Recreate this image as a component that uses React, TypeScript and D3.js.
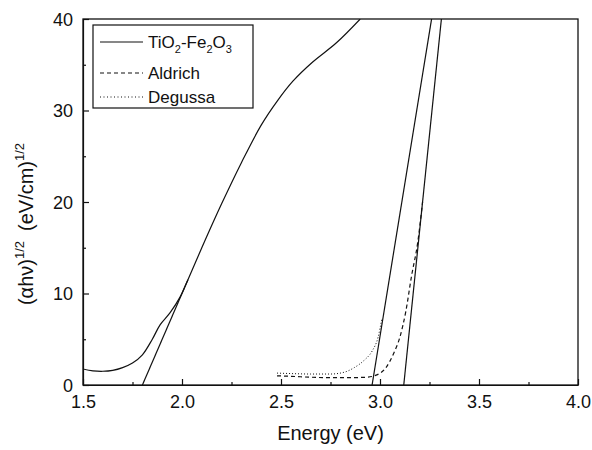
import React, { useEffect, useRef } from "react";
import * as d3 from "d3";

// TiO2-Fe2O3 measured curve
const tioEnergy = [1.5, 1.55, 1.6, 1.65, 1.7, 1.75, 1.8, 1.85, 1.89, 1.94, 1.99, 2.03, 2.1, 2.2, 2.3, 2.4, 2.48, 2.56, 2.66, 2.78, 2.9];
const tioValue = [1.75, 1.55, 1.5, 1.6, 1.9, 2.4, 3.3, 5.0, 6.6, 7.9, 9.6, 11.5, 15.0, 19.8, 24.3, 28.4, 31.0, 33.2, 35.3, 37.4, 40];

// Aldrich (dashed)
const aldrichEnergy = [2.48, 2.55, 2.65, 2.75, 2.85, 2.93, 2.97, 3.03, 3.07, 3.1, 3.13, 3.16, 3.19, 3.215];
const aldrichValue = [1.0, 0.95, 0.85, 0.8, 0.8, 0.85, 1.0, 1.9, 3.5, 5.2, 8.0, 12.0, 15.5, 20];

// Degussa (dotted)
const degussaEnergy = [2.48, 2.55, 2.65, 2.75, 2.82, 2.87, 2.92, 2.96, 2.99, 3.01];
const degussaValue = [1.3, 1.25, 1.2, 1.2, 1.4, 1.9, 2.7, 3.7, 5.2, 7.3];

// linear extrapolations (band gap fits)
const fitLines = [
  { energy: [1.8, 2.03], value: [0, 11.5] },
  { energy: [2.96, 3.262], value: [0, 40.2] },
  { energy: [3.12, 3.311], value: [0, 40.2] },
];

const xTicks = [1.5, 2.0, 2.5, 3.0, 3.5, 4.0];
const xMinor = [1.75, 2.25, 2.75, 3.25, 3.75];
const yTicks = [0, 10, 20, 30, 40];
const yMinor = [5, 15, 25, 35];

const legendNames = ["TiO2-Fe2O3", "Aldrich", "Degussa"];

const App = () => {
  const svgRef = useRef<SVGSVGElement>(null);

  useEffect(() => {
    document.body.style.margin = "0";
    const svg = d3.select(svgRef.current);
    svg.selectAll("*").remove();

    const left = 83, right = 578, top = 19, bottom = 385;
    const font = "'Liberation Sans', Arial, sans-serif";
    const ink = "#111";

    const x = d3.scaleLinear().domain([1.5, 4.0]).range([left, right]);
    const y = d3.scaleLinear().domain([0, 40]).range([bottom, top]);

    svg.append("defs").append("clipPath").attr("id", "plot")
      .append("rect").attr("x", left).attr("y", top)
      .attr("width", right - left).attr("height", bottom - top);

    const smooth = d3.line<[number, number]>()
      .x(d => x(d[0])).y(d => y(d[1]))
      .curve(d3.curveCatmullRom.alpha(0.5));
    const line = d3.line<[number, number]>()
      .x(d => x(d[0])).y(d => y(d[1]))
      .curve(d3.curveMonotoneX);
    const straight = d3.line<[number, number]>().x(d => x(d[0])).y(d => y(d[1]));

    const g = svg.append("g").attr("clip-path", "url(#plot)")
      .attr("fill", "none").attr("stroke", ink).attr("stroke-width", 1.2);

    g.append("path").attr("d", smooth(tioEnergy.map((e, i) => [e, tioValue[i]])));
    g.append("path").attr("d", line(aldrichEnergy.map((e, i) => [e, aldrichValue[i]])))
      .attr("stroke-dasharray", "4,3");
    g.append("path").attr("d", line(degussaEnergy.map((e, i) => [e, degussaValue[i]])))
      .attr("stroke-dasharray", "1,2").attr("stroke-width", 1);
    fitLines.forEach(f => {
      g.append("path").attr("d", straight(f.energy.map((e, i) => [e, f.value[i]])));
    });

    // axes
    const xAxis = svg.append("g").attr("transform", `translate(0,${bottom})`)
      .call(d3.axisBottom(x).tickValues(xTicks).tickFormat(d3.format(".1f"))
        .tickSizeInner(-6).tickSizeOuter(0).tickPadding(10));
    svg.append("g").attr("transform", `translate(0,${bottom})`)
      .call(d3.axisBottom(x).tickValues(xMinor).tickFormat(() => "").tickSizeInner(-3).tickSizeOuter(0))
      .select(".domain").remove();
    const yAxis = svg.append("g").attr("transform", `translate(${left},0)`)
      .call(d3.axisLeft(y).tickValues(yTicks).tickSizeInner(-6).tickSizeOuter(0).tickPadding(10));
    svg.append("g").attr("transform", `translate(${left},0)`)
      .call(d3.axisLeft(y).tickValues(yMinor).tickFormat(() => "").tickSizeInner(-3).tickSizeOuter(0))
      .select(".domain").remove();

    svg.selectAll(".tick line").attr("stroke", ink).attr("stroke-width", 1.2);
    svg.selectAll(".domain").attr("stroke", ink).attr("stroke-width", 1.2);
    [xAxis, yAxis].forEach(a => a.selectAll("text")
      .attr("font-family", font).attr("font-size", 18).attr("fill", ink));
    yAxis.selectAll("text").attr("dy", "0.36em");

    // frame
    svg.append("rect").attr("x", left).attr("y", top)
      .attr("width", right - left).attr("height", bottom - top)
      .attr("fill", "none").attr("stroke", ink).attr("stroke-width", 1.3);

    // axis titles
    svg.append("text").attr("x", (left + right) / 2).attr("y", 440)
      .attr("text-anchor", "middle").attr("font-family", font).attr("font-size", 20)
      .attr("fill", ink).text("Energy (eV)");

    const yl = svg.append("text")
      .attr("transform", "translate(33,224) rotate(-90)")
      .attr("text-anchor", "middle").attr("font-family", font).attr("font-size", 20)
      .attr("fill", ink);
    yl.append("tspan").text("(\u03B1h\u03BD)");
    yl.append("tspan").attr("dy", -9).attr("font-size", 13).text("1/2");
    yl.append("tspan").attr("dy", 9).text("\u2002(eV/cm)");
    yl.append("tspan").attr("dy", -9).attr("font-size", 13).text("1/2");

    // legend
    const lg = svg.append("g");
    lg.append("rect").attr("x", 93).attr("y", 25).attr("width", 160).attr("height", 83)
      .attr("fill", "white").attr("stroke", ink).attr("stroke-width", 1.2);
    const dashes = [null, "4,3", "1,2.5"];
    const rows = [42, 73, 97];
    legendNames.forEach((name, i) => {
      lg.append("line").attr("x1", 100).attr("x2", 143)
        .attr("y1", rows[i]).attr("y2", rows[i])
        .attr("stroke", ink).attr("stroke-width", 1.2)
        .attr("stroke-dasharray", dashes[i]);
      const t = lg.append("text").attr("x", 148).attr("y", rows[i] + 6)
        .attr("font-family", font).attr("font-size", 17).attr("fill", ink);
      if (i === 0) {
        t.append("tspan").text("TiO");
        t.append("tspan").attr("dy", 5).attr("font-size", 11).text("2");
        t.append("tspan").attr("dy", -5).text("-Fe");
        t.append("tspan").attr("dy", 5).attr("font-size", 11).text("2");
        t.append("tspan").attr("dy", -5).text("O");
        t.append("tspan").attr("dy", 5).attr("font-size", 11).text("3");
      } else {
        t.text(name);
      }
    });
  }, []);

  return <svg ref={svgRef} width={592} height={450} style={{ display: "block", background: "white" }} />;
};

export default App;
